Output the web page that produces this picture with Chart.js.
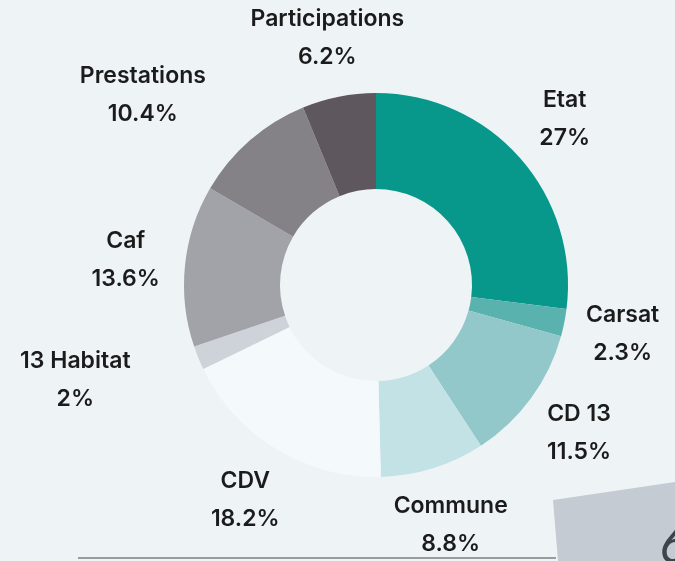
<!DOCTYPE html>
<html>
<head>
<meta charset="utf-8">
<script src="https://cdn.jsdelivr.net/npm/chart.js@4"></script>
<style>
	html, body { margin: 0; padding: 0; background: #eef3f6; }
	#wrap { width: 675px; height: 561px; }
</style>
</head>
<body>
<div id="wrap"><canvas id="fundChart" width="675" height="561"></canvas></div>
<script>
// Données du graphique
const sources = ["Etat", "Carsat", "CD 13", "Commune", "CDV", "13 Habitat", "Caf", "Prestations", "Participations"];
const shares = [27, 2.3, 11.5, 8.8, 18.2, 2, 13.6, 10.4, 6.2];
const shareLabels = ["27%", "2.3%", "11.5%", "8.8%", "18.2%", "2%", "13.6%", "10.4%", "6.2%"];
const sliceColors = ["#07978b", "#59b2ad", "#92c8ca", "#c3e2e6", "#f4f9fc", "#cdd3d8", "#a2a3a8", "#858287", "#5e575d"];

// Étiquettes autour de l'anneau
const outerLabels = {
	id: "outerLabels",
	afterDatasetsDraw(chart, args, opts) {
		const ctx = chart.ctx;
		const meta = chart.getDatasetMeta(0);
		ctx.save();
		ctx.fillStyle = opts.color;
		ctx.font = opts.font;
		ctx.textAlign = "center";
		ctx.textBaseline = "middle";
		meta.data.forEach(function (arc, i) {
			const p = arc.getProps(["x", "y", "startAngle", "endAngle", "outerRadius"], true);
			const mid = (p.startAngle + p.endAngle) / 2;
			const dist = p.outerRadius * opts.distance;
			const shift = opts.shift[i] || 0;
			const cx = p.x + Math.cos(mid) * dist + shift;
			const cy = p.y + Math.sin(mid) * dist;
			ctx.fillText(sources[i], cx, cy - opts.lineGap / 2);
			ctx.fillText(shareLabels[i], cx, cy + opts.lineGap / 2);
		});
		ctx.restore();
	},
};

// Décor bas de page
const decor = {
	id: "decor",
	afterDraw(chart) {
		const ctx = chart.ctx;
		ctx.save();
		ctx.strokeStyle = "#9a9c9e";
		ctx.lineWidth = 2;
		ctx.beginPath();
		ctx.moveTo(78, 558);
		ctx.lineTo(556, 558);
		ctx.stroke();
		ctx.fillStyle = "#c4cbd3";
		ctx.beginPath();
		ctx.moveTo(553, 500);
		ctx.lineTo(675, 482);
		ctx.lineTo(675, 561);
		ctx.lineTo(558, 561);
		ctx.closePath();
		ctx.fill();
		ctx.fillStyle = "#3f444a";
		ctx.font = "italic 400 54px Lato";
		ctx.textBaseline = "alphabetic";
		ctx.fillText("6", 659, 563);
		ctx.restore();
	},
};

const ctx = document.getElementById("fundChart").getContext("2d");
const chart = new Chart(ctx, {
	type: "doughnut",
	data: {
		labels: sources,
		datasets: [
			{
				data: shares,
				backgroundColor: sliceColors,
				borderWidth: 0,
			},
		],
	},
	options: {
		responsive: false,
		animation: false,
		cutout: "50%",
		layout: {
			padding: { top: 93, bottom: 84, left: 184, right: 107 },
		},
		plugins: {
			legend: { display: false },
			title: { display: false },
			tooltip: { enabled: false },
			outerLabels: {
				color: "#1b1b1b",
				font: "600 23px Inter",
				distance: 1.31,
				lineGap: 38,
				shift: { 5: -68, 7: -68 },
			},
		},
	},
	plugins: [outerLabels, decor],
});
</script>
</body>
</html>
